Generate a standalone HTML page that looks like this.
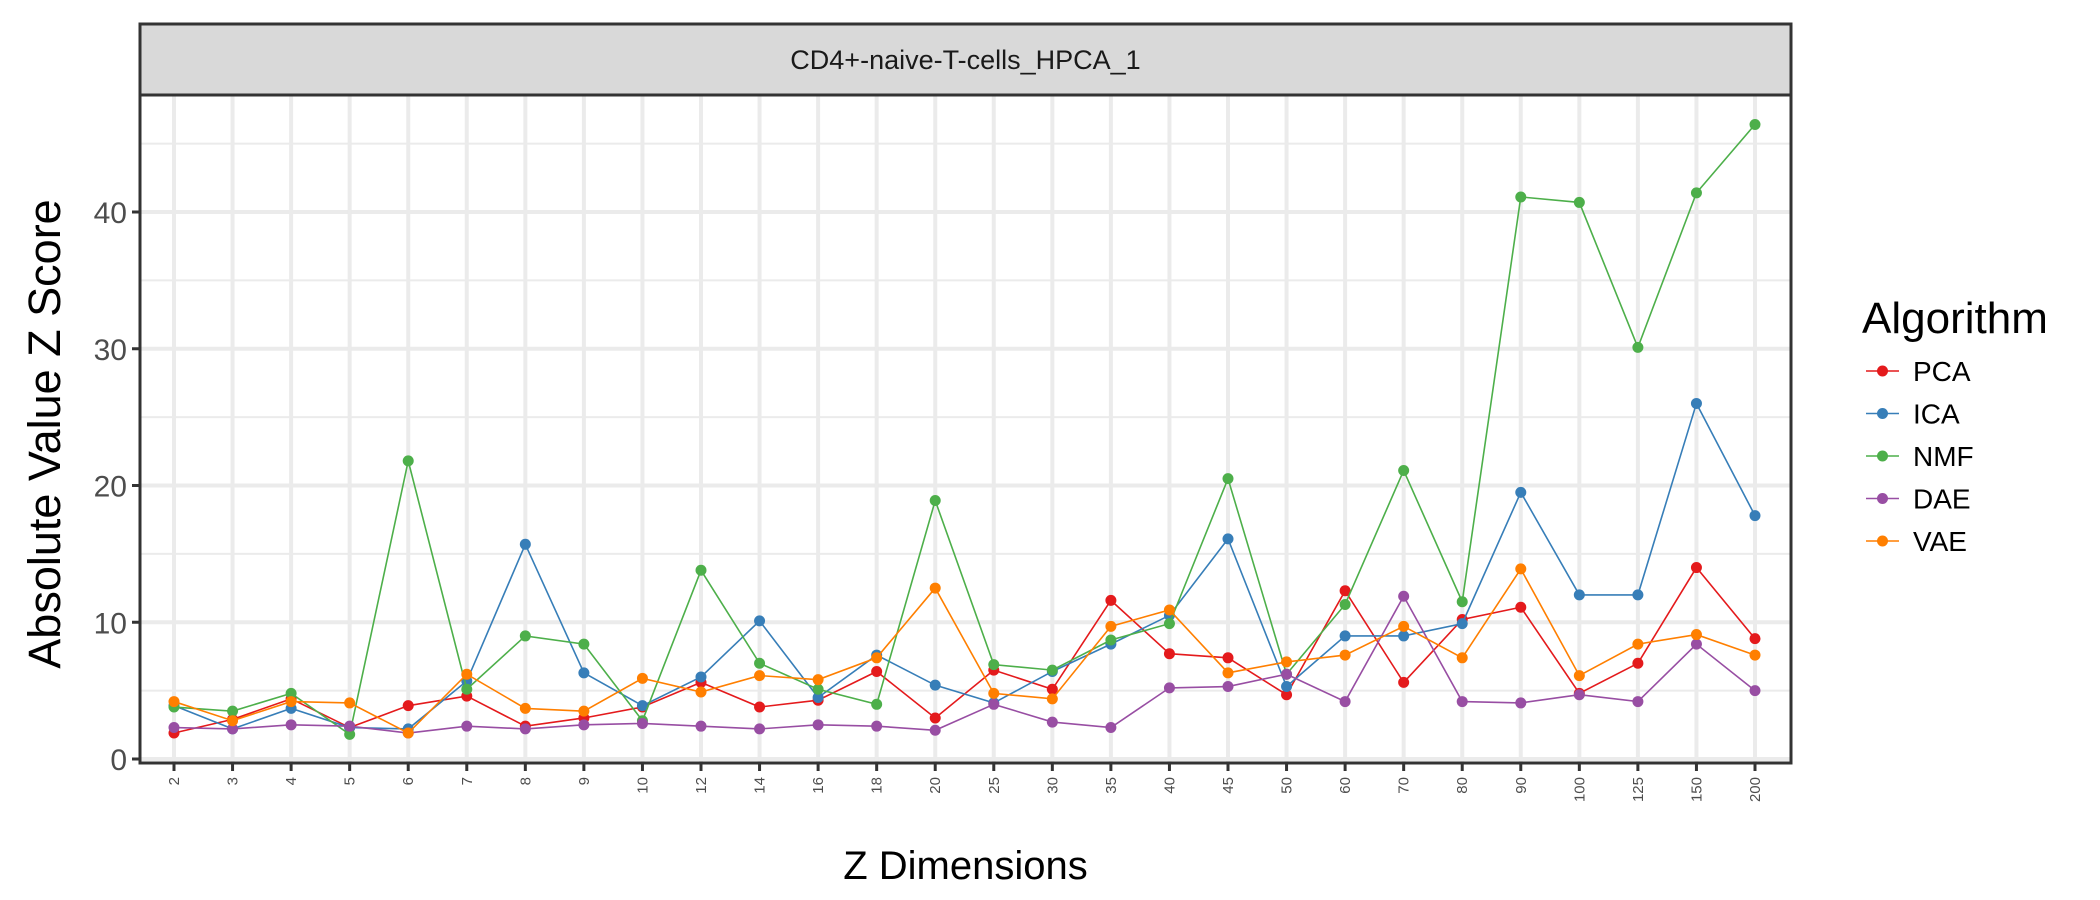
<!DOCTYPE html>
<html><head><meta charset="utf-8"><style>
html,body{margin:0;padding:0;background:#fff;width:2100px;height:900px;overflow:hidden}
svg{display:block;font-family:"Liberation Sans",sans-serif}
</style></head><body>
<svg id="chart" width="2100" height="900" viewBox="0 0 2100 900"></svg>
<script>
const categories=["2","3","4","5","6","7","8","9","10","12","14","16","18","20","25","30","35","40","45","50","60","70","80","90","100","125","150","200"];
const seriesNames=["PCA","ICA","NMF","DAE","VAE"];
const seriesColors=["#e41a1c","#377eb8","#4daf4a","#984ea3","#ff7f00"];
const pcaValues=[1.9,2.9,4.4,2.3,3.9,4.6,2.4,3.0,3.8,5.6,3.8,4.3,6.4,3.0,6.5,5.1,11.6,7.7,7.4,4.7,12.3,5.6,10.2,11.1,4.8,7.0,14.0,8.8];
const icaValues=[3.9,2.2,3.7,2.3,2.2,5.7,15.7,6.3,3.9,6.0,10.1,4.5,7.6,5.4,4.1,6.4,8.4,10.5,16.1,5.3,9.0,9.0,9.9,19.5,12.0,12.0,26.0,17.8];
const nmfValues=[3.8,3.5,4.8,1.8,21.8,5.1,9.0,8.4,2.8,13.8,7.0,5.1,4.0,18.9,6.9,6.5,8.7,9.9,20.5,6.2,11.3,21.1,11.5,41.1,40.7,30.1,41.4,46.4];
const daeValues=[2.3,2.2,2.5,2.4,1.9,2.4,2.2,2.5,2.6,2.4,2.2,2.5,2.4,2.1,4.0,2.7,2.3,5.2,5.3,6.2,4.2,11.9,4.2,4.1,4.7,4.2,8.4,5.0];
const vaeValues=[4.2,2.8,4.2,4.1,1.9,6.2,3.7,3.5,5.9,4.9,6.1,5.8,7.4,12.5,4.8,4.4,9.7,10.9,6.3,7.1,7.6,9.7,7.4,13.9,6.1,8.4,9.1,7.6];
const yTicks=[0,10,20,30,40];
const yMinor=[5,15,25,35,45];

const seriesValues=[pcaValues,icaValues,nmfValues,daeValues,vaeValues];
const NS="http://www.w3.org/2000/svg";
const svg=document.getElementById('chart');
const L=140,R=1791,T=95,B=763,ST=24;
function xs(i){return 174+i*(1755-174)/(categories.length-1);}
function ys(v){return 759-v*(759-212)/40;}
function mk(tag,attrs,parent){const e=document.createElementNS(NS,tag);for(const k in attrs)e.setAttribute(k,attrs[k]);(parent||svg).appendChild(e);return e;}

let e;
e=mk('rect',{x:L,y:T,width:R-L,height:B-T,fill:'#fff'});


yMinor.forEach(v=>{const g=mk('line',{x1:L,x2:R,y1:ys(v),y2:ys(v),stroke:'#ebebeb','stroke-width':2});

});
yTicks.forEach(v=>{const g=mk('line',{x1:L,x2:R,y1:ys(v),y2:ys(v),stroke:'#ebebeb','stroke-width':4});

});
categories.forEach((c,i)=>{const g=mk('line',{x1:xs(i),x2:xs(i),y1:T,y2:B,stroke:'#ebebeb','stroke-width':4});

});

seriesValues.forEach((vals,s)=>{
  const pts=vals.map((v,i)=>xs(i)+','+ys(v)).join(' ');
  const pl=mk('polyline',{points:pts,fill:'none',stroke:seriesColors[s],'stroke-width':1.6});
  
  
  vals.forEach((v,i)=>{const c=mk('circle',{cx:xs(i),cy:ys(v),r:5.5,fill:seriesColors[s]});
  
  });
});

e=mk('rect',{x:L,y:T,width:R-L,height:B-T,fill:'none',stroke:'#333','stroke-width':3});


e=mk('rect',{x:L,y:ST,width:R-L,height:T-ST,fill:'#d9d9d9',stroke:'#333','stroke-width':3});


e=mk('text',{x:(L+R)/2,y:69,'text-anchor':'middle','font-size':27,fill:'#1a1a1a'});
e.textContent='CD4+-naive-T-cells_HPCA_1';



yTicks.forEach(v=>{
  const t=mk('line',{x1:L-8,x2:L,y1:ys(v),y2:ys(v),stroke:'#333','stroke-width':3});
  
  
  const tx=mk('text',{x:L-13,y:ys(v)+11,'text-anchor':'end','font-size':30,fill:'#4d4d4d'});
  tx.textContent=v;
  
  
});
categories.forEach((c,i)=>{
  const t=mk('line',{x1:xs(i),x2:xs(i),y1:B,y2:B+8,stroke:'#333','stroke-width':3});
  
  
  const tx=mk('text',{x:0,y:0,'text-anchor':'end','font-size':15,fill:'#4d4d4d',transform:'translate('+(xs(i)+5)+','+(B+14)+') rotate(-90)'});
  tx.textContent=c;
  
  
});

e=mk('text',{x:0,y:0,'text-anchor':'middle','font-size':45,fill:'#000',transform:'translate(60,434) rotate(-90)'});
e.textContent='Absolute Value Z Score';


e=mk('text',{x:(L+R)/2,y:879,'text-anchor':'middle','font-size':40,fill:'#000'});
e.textContent='Z Dimensions';



e=mk('text',{x:1862,y:333,'font-size':44,fill:'#000'});
e.textContent='Algorithm';


seriesNames.forEach((n,s)=>{
  const y=371+s*42.5;
  const g=mk('g',{});
  
  
  mk('line',{x1:1866,x2:1899,y1:y,y2:y,stroke:seriesColors[s],'stroke-width':1.6},g);
  mk('circle',{cx:1882.5,cy:y,r:5.5,fill:seriesColors[s]},g);
  const t=mk('text',{x:1913,y:y+10,'font-size':28,fill:'#000'},g);
  t.textContent=n;
});
</script>
</body></html>
